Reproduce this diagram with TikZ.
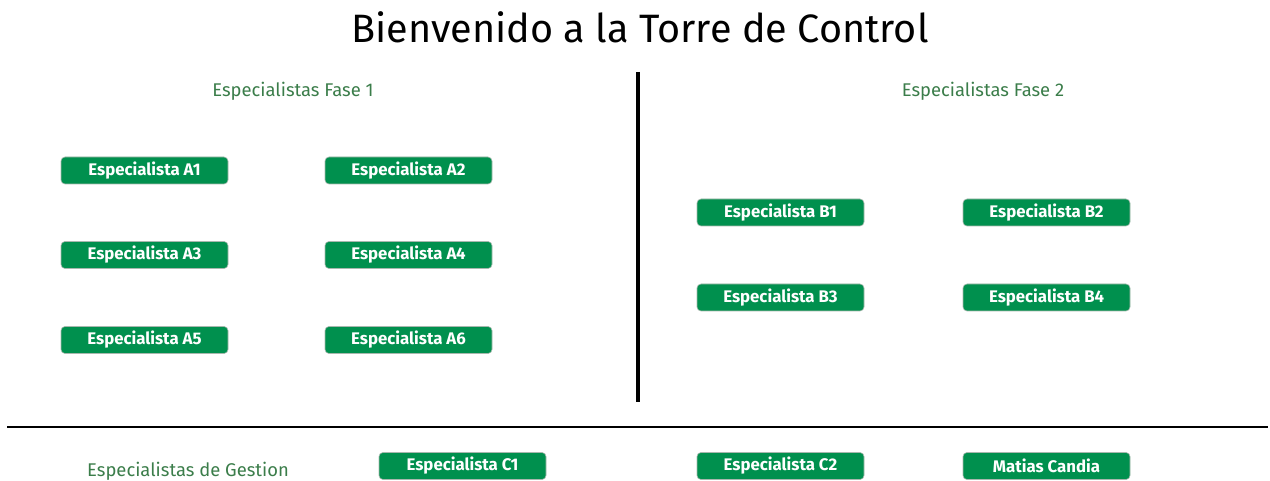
\documentclass[tikz,border=0pt]{standalone}
\usepackage{fontspec}
\setmainfont{Fira Sans}
\definecolor{btngreen}{HTML}{00904E}
\definecolor{lblgreen}{HTML}{3B7D4A}
\definecolor{btnborder}{HTML}{A8B8AE}
\tikzset{
  btn/.style={draw=btnborder, line width=0.6pt, fill=btngreen, rounded corners=4pt,
    minimum width=167pt, minimum height=27pt, inner sep=0pt,
    text=white, font=\fontsize{16.8}{18}\selectfont\bfseries},
  lbl/.style={text=lblgreen, font=\fontsize{18.4}{21}\selectfont},
}
\begin{document}
\begin{tikzpicture}[x=1pt,y=-1pt]
\useasboundingbox (0,0) rectangle (1270,481);
\node[font=\fontsize{39.6}{44}\selectfont] (title) at (640,27) {Bienvenido a la Torre de Control};
\node[lbl] (f1) at (293,91) {Especialistas Fase 1};
\node[lbl] (f2) at (983,91) {Especialistas Fase 2};
\node[lbl] (g) at (188,471) {Especialistas de Gestion};
\coordinate (vt) at (638,72);
\coordinate (vb) at (638,402);
\draw[line width=4pt] (vt) -- (vb);
\coordinate (hl) at (7,427);
\coordinate (hr) at (1268,427);
\draw[line width=2pt] (hl) -- (hr);
\node[btn] (a1) at (144.5,170.5) {Especialista A1};
\node[btn] (a2) at (408.5,170.5) {Especialista A2};
\node[btn] (a3) at (144.5,255) {Especialista A3};
\node[btn] (a4) at (408.5,255) {Especialista A4};
\node[btn] (a5) at (144.5,340) {Especialista A5};
\node[btn] (a6) at (408.5,340) {Especialista A6};
\node[btn] (b1) at (780.5,212.5) {Especialista B1};
\node[btn] (b2) at (1046.5,212.5) {Especialista B2};
\node[btn] (b3) at (780.5,297.5) {Especialista B3};
\node[btn] (b4) at (1046.5,297.5) {Especialista B4};
\node[btn] (c1) at (462.5,466) {Especialista C1};
\node[btn] (c2) at (780.5,466) {Especialista C2};
\node[btn] (m) at (1046.5,466) {Matias Candia};
\end{tikzpicture}
\end{document}
